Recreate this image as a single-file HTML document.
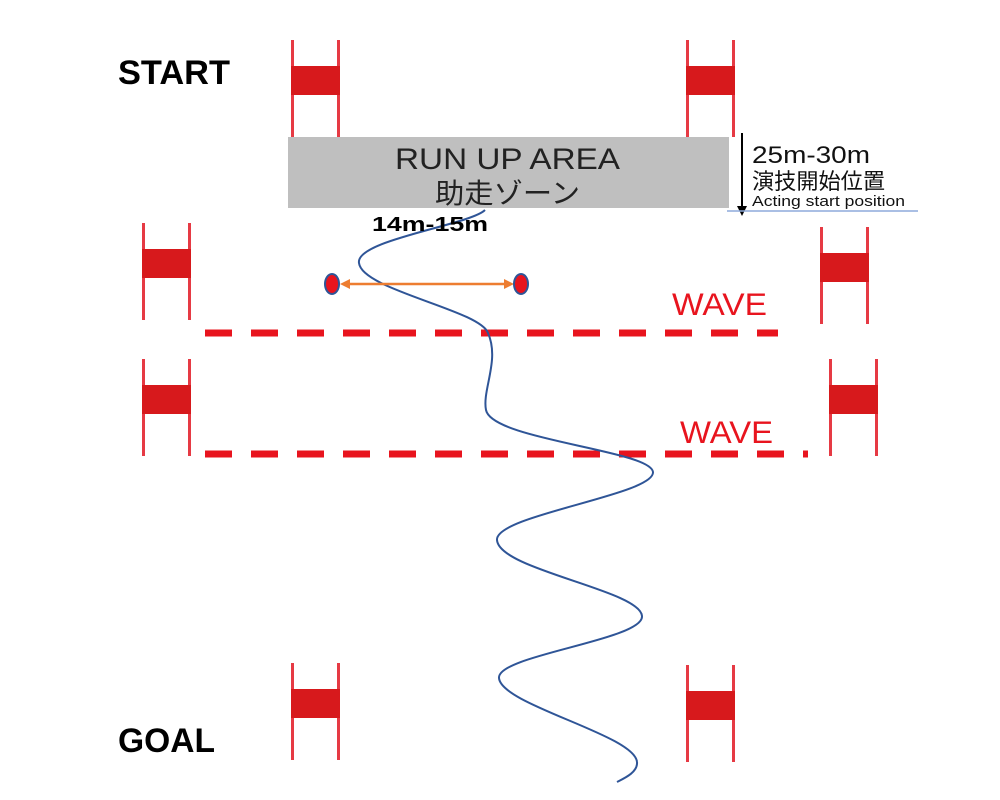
<!DOCTYPE html>
<html><head><meta charset="utf-8"><style>
html,body{margin:0;padding:0;background:#fff;}
svg{display:block;}
</style></head><body>
<svg width="1000" height="800" viewBox="0 0 1000 800" xmlns="http://www.w3.org/2000/svg">
<defs>
<g id="gate">
<rect x="0" y="0" width="3" height="97" fill="#e63a44"/>
<rect x="46" y="0" width="3" height="97" fill="#e63a44"/>
<rect x="0" y="26" width="49" height="29" fill="#d7191c"/>
</g>
</defs>
<use href="#gate" x="291" y="40"/>
<use href="#gate" x="686" y="40"/>
<use href="#gate" x="142" y="223"/>
<use href="#gate" x="820" y="227"/>
<use href="#gate" x="142" y="359"/>
<use href="#gate" x="829" y="359"/>
<use href="#gate" x="291" y="663"/>
<use href="#gate" x="686" y="665"/>

<rect x="288" y="137" width="441" height="71" fill="#bfbfbf"/>
<text x="395" y="169" font-family="Liberation Sans, sans-serif" font-size="30" fill="#222" textLength="225" lengthAdjust="spacingAndGlyphs">RUN UP AREA</text>
<text x="435" y="203" font-family="Liberation Sans, Noto Sans CJK JP, sans-serif" font-size="28" fill="#222" textLength="145" lengthAdjust="spacingAndGlyphs">助走ゾーン</text>

<line x1="742" y1="133" x2="742" y2="207" stroke="#000" stroke-width="2"/>
<polygon points="737,206 747,206 742,216" fill="#000"/>
<line x1="727" y1="211" x2="918" y2="211" stroke="#8eaadb" stroke-width="1.5"/>
<text x="752" y="163" font-family="Liberation Sans, sans-serif" font-size="24" fill="#111" textLength="118" lengthAdjust="spacingAndGlyphs">25m-30m</text>
<text x="752" y="189" font-family="Liberation Sans, Noto Sans CJK JP, sans-serif" font-size="22" fill="#111" textLength="133" lengthAdjust="spacingAndGlyphs">演技開始位置</text>
<text x="752" y="206" font-family="Liberation Sans, sans-serif" font-size="15" fill="#111" textLength="153" lengthAdjust="spacingAndGlyphs">Acting start position</text>

<text x="118" y="84" font-family="Liberation Sans, sans-serif" font-size="34" font-weight="bold" fill="#000" textLength="112" lengthAdjust="spacingAndGlyphs">START</text>
<text x="118" y="752" font-family="Liberation Sans, sans-serif" font-size="34" font-weight="bold" fill="#000" textLength="97" lengthAdjust="spacingAndGlyphs">GOAL</text>

<line x1="205" y1="333" x2="778" y2="333" stroke="#e8141e" stroke-width="7" stroke-dasharray="27 19"/>
<line x1="205" y1="454" x2="808" y2="454" stroke="#e8141e" stroke-width="7" stroke-dasharray="27 19"/>
<text transform="translate(672,315) scale(1,1.35)" x="0" y="0" font-family="Liberation Sans, sans-serif" font-size="23" fill="#e8141e" textLength="95" lengthAdjust="spacingAndGlyphs">WAVE</text>
<text transform="translate(680,443) scale(1,1.35)" x="0" y="0" font-family="Liberation Sans, sans-serif" font-size="23" fill="#e8141e" textLength="93" lengthAdjust="spacingAndGlyphs">WAVE</text>

<path d="M485,210 C470,225 355,240 359,263 C362,290 480,310 488,333 C500,360 482,390 486,410 C492,440 650,450 653,472 C655,495 495,515 497,540 C499,570 640,590 642,616 C644,640 497,655 499,678 C501,705 635,735 637,762 C638,772 625,778 617,782" fill="none" stroke="#2f5597" stroke-width="2"/>

<text x="372" y="231" font-family="Liberation Sans, sans-serif" font-size="20" font-weight="bold" fill="#000" textLength="116" lengthAdjust="spacingAndGlyphs">14m-15m</text>

<line x1="348" y1="284" x2="506" y2="284" stroke="#ed7d31" stroke-width="2.5"/>
<polygon points="340,284 350,279 350,289" fill="#ed7d31"/>
<polygon points="514,284 504,279 504,289" fill="#ed7d31"/>
<ellipse cx="332" cy="284" rx="7" ry="10" fill="#e8141e" stroke="#2f5597" stroke-width="2"/>
<ellipse cx="521" cy="284" rx="7" ry="10" fill="#e8141e" stroke="#2f5597" stroke-width="2"/>
</svg>
</body></html>
